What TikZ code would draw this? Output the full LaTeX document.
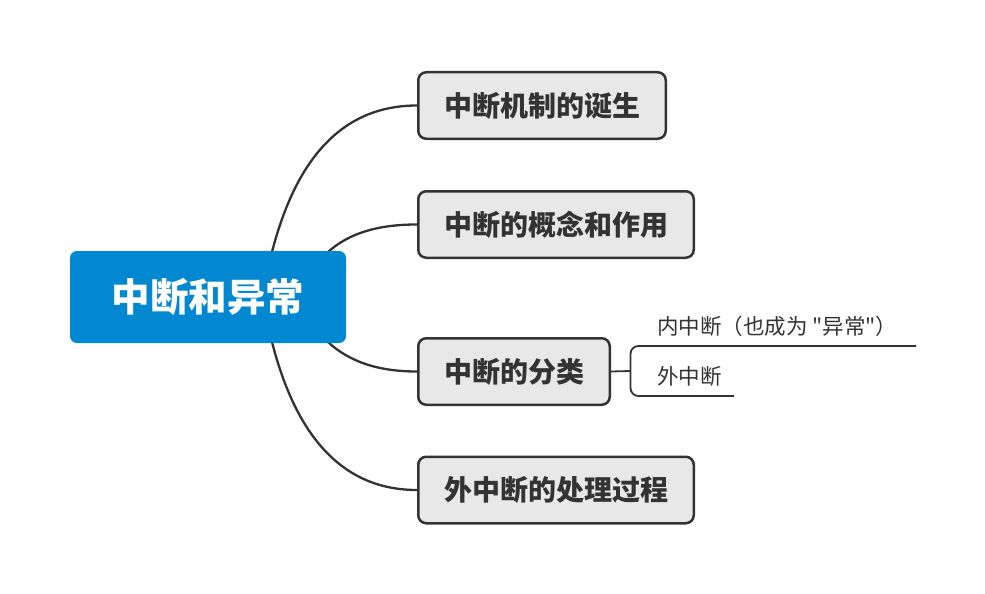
\documentclass[tikz,border=0pt]{standalone}
\usepackage{fontspec}
\setmainfont{Noto Sans CJK SC}[Ligatures=TeXOff]
\definecolor{rootblue}{RGB}{2,136,209}
\definecolor{boxgray}{RGB}{232,232,232}
\definecolor{inkdark}{RGB}{51,51,51}
\begin{document}
\begin{tikzpicture}[x=1pt,y=-1pt,
  rootbox/.style={fill=rootblue,rounded corners=7pt,minimum width=276pt,minimum height=92pt,inner sep=0pt,
    text=white,font=\fontsize{38.5}{42}\selectfont\bfseries},
  branchbox/.style={fill=boxgray,draw=inkdark,line width=2.5pt,rounded corners=8pt,minimum height=66.5pt,inner sep=0pt,
    text=inkdark,font=\fontsize{28}{32}\selectfont\bfseries},
  sublabel/.style={text=inkdark,font=\fontsize{21.5}{25}\selectfont,inner sep=0pt,anchor=west},
  conn/.style={draw=inkdark,line width=2.3pt}]
\useasboundingbox (0,0) rectangle (985,594);
\fill[white] (0,0) rectangle (985,594);

\coordinate (s1) at (272,252);
\coordinate (s2) at (328,252);
\coordinate (s3) at (328,342);
\coordinate (s4) at (272,342);

\node[branchbox,minimum width=247.5pt] (n1) at (542,105.5) {中断机制的诞生};
\node[branchbox,minimum width=275.5pt] (n2) at (556,224.5) {中断的概念和作用};
\node[branchbox,minimum width=191.5pt] (n3) at (514,371.5) {中断的分类};
\node[branchbox,minimum width=275.5pt] (n4) at (556,490) {外中断的处理过程};

\draw[conn] (s1) .. controls (297.3,153.7) and (345.7,105.5) .. (n1.west);
\draw[conn] (s2) .. controls (349.3,233) and (378,224.5) .. (n2.west);
\draw[conn] (s3) .. controls (349.3,361.7) and (378,371.5) .. (n3.west);
\draw[conn] (s4) .. controls (297.3,441) and (345.7,490) .. (n4.west);

\node[rootbox] (root) at (208,297) {中断和异常};

% sub-branches of 中断的分类
\coordinate (bmid) at (630.5,371);
\coordinate (topend) at (916,346);
\coordinate (botend) at (734,396);
\draw[conn,line width=1.8pt] (n3.east) -- (bmid);
\draw[conn,line width=1.8pt,rounded corners=8pt] (topend) -| (bmid) |- (botend);
\node[sublabel] (sa) at (657,326) {内中断（也成为 "异常"）};
\node[sublabel] (sb) at (657,376) {外中断};
\end{tikzpicture}
\end{document}
